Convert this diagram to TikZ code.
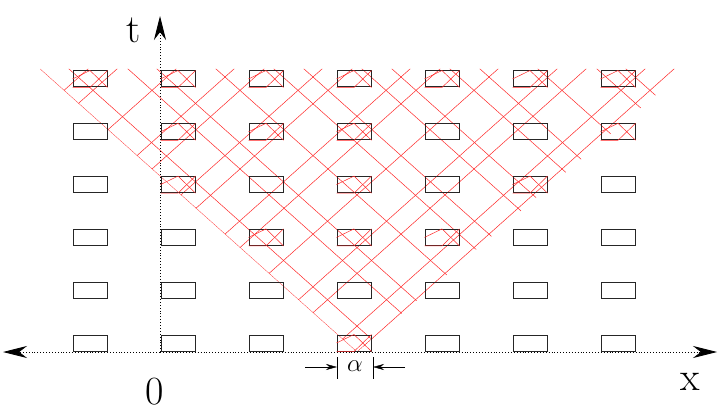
\documentclass[tikz,border=0pt]{standalone}
\usetikzlibrary{arrows.meta}
\begin{document}
\begin{tikzpicture}[x=1pt,y=-1pt,
  cell/.style={draw=black!85,line width=1pt,minimum width=34pt,minimum height=16pt,inner sep=0pt},
  ray/.style={red!85,line width=0.5pt},
  axis/.style={dotted,line width=0.9pt},
  big/.style={-{Stealth[length=24pt,width=12pt]}},
  lab/.style={font=\fontsize{40}{40}\selectfont}]
\useasboundingbox (0,0) rectangle (720,414);
% red rays clipped to cone
\begin{scope}
\clip (357,352) -- (40,69) -- (686,69) -- cycle;
\foreach \c in {357,386,445,474,533,591,621,679,709,767,797,855,914,943} {
  \draw[ray] (\c,352) -- ({\c-1.12*300},52);
  \draw[ray] ({714-\c},352) -- ({714-\c+1.12*300},52);
}
\end{scope}
% boxes
\foreach \i in {0,...,6} {
  \foreach \j in {0,...,5} {
    \node[cell] (b\i\j) at ({90+88*\i},{343-52.8*\j}) {};
  }
}
% shallow crossings inside boxes
\foreach \n in {b30,b22,b32,b42,b13,b33,b53,b14,b24,b34,b64,b05,b15,b25,b35,b45,b55,b65} {
  \draw[ray] (\n.west) -- (\n.north) -- (\n.south east);
  \draw[ray] (\n.north east) -- (\n.south) -- (\n.south west);
}
% axes
\coordinate (xl) at (3,352);
\coordinate (xr) at (717,352);
\coordinate (o) at (160,352);
\coordinate (tt) at (160,16);
\draw[axis,big] (o) -- (xl);
\draw[axis,big] (o) -- (xr);
\draw[axis,big] (o) -- (tt);
\node[lab] (t) at (134,30) {t};
\node[lab] (x) at (690,382) {x};
\node[lab] (zero) at (155,392) {0};
% alpha
\coordinate (al) at (337,367);
\coordinate (ar) at (373,367);
\draw[line width=0.9pt] (337,357) -- (337,379);
\draw[line width=0.9pt] (373,357) -- (373,379);
\draw[-{Stealth[length=11pt,width=6pt]}] (305,367) -- (al);
\draw[-{Stealth[length=11pt,width=6pt]}] (405,367) -- (ar);
\node[font=\fontsize{24}{24}\selectfont] (alpha) at (355,366) {$\alpha$};
\end{tikzpicture}
\end{document}
